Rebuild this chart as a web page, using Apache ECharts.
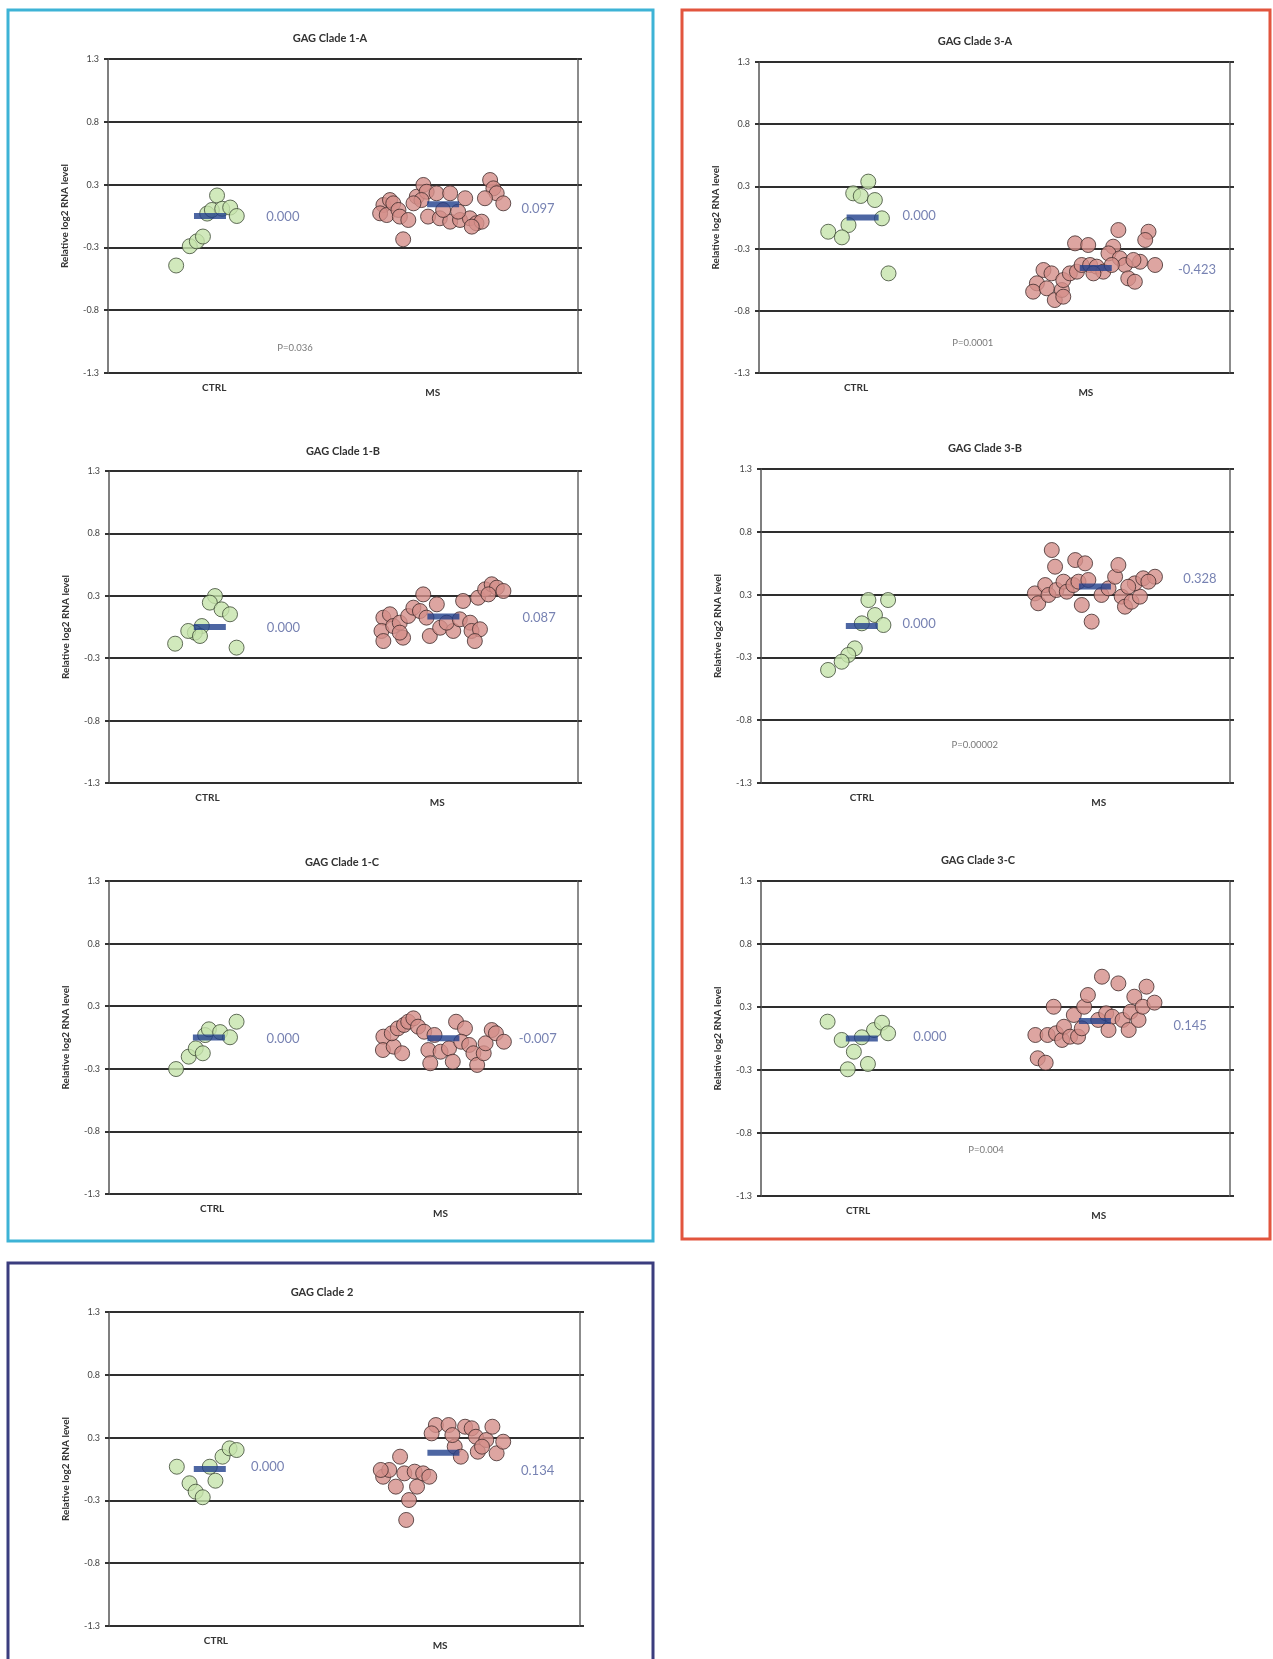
<!DOCTYPE html>
<html>
<head>
<meta charset="utf-8">
<script src="https://cdn.jsdelivr.net/npm/echarts@6/dist/echarts.min.js"></script>
<style>
html,body{margin:0;padding:0;background:#fff;}
#chart{width:1273px;height:1659px;}
</style>
</head>
<body>
<div id="chart"></div>
<script>
// ---------- DATA ----------
const groups = ['CTRL', 'MS'];
const yTicks = [-1.3, -0.78, -0.26, 0.26, 0.78, 1.3];
const yAxisTitle = 'Relative log2 RNA level';

// points: [jitter position (0-100 across plot), relative log2 RNA level]
const ctrl1A = [[14.5,-0.41],[17.4,-0.25],[18.9,-0.21],[20.2,-0.17],[21.1,0.02],[22.1,0.05],[23.2,0.17],[24.3,0.06],[26.0,0.07],[27.4,0.00]];
const ms1A = [[58.6,0.091],[60.0,0.132],[57.9,0.022],[59.3,0.008],[60.7,0.105],[61.8,0.05],[62.1,-0.005],[63.9,-0.033],[62.8,-0.193],[65.7,0.16],[67.1,0.257],[67.8,0.201],[66.7,0.132],[65.0,0.105],[69.9,0.188],[72.8,0.188],[76.0,0.147],[68.1,-0.005],[70.6,-0.019],[72.8,-0.047],[74.9,-0.033],[77.0,-0.019],[78.4,-0.06],[79.5,-0.047],[81.3,0.298],[82.0,0.229],[82.7,0.188],[80.2,0.147],[84.1,0.105],[71.3,0.05],[74.5,0.036],[77.4,-0.088]];
const means1A = [0.000, 0.097];

const ctrl3A = [[23.2,0.30],[20.0,0.202],[21.6,0.18],[24.6,0.146],[26.1,-0.007],[19.0,-0.063],[14.7,-0.119],[17.6,-0.166],[27.5,-0.467]];
const ms3A = [[60.4,-0.439],[62.1,-0.467],[59.0,-0.55],[58.2,-0.62],[61.1,-0.592],[62.8,-0.69],[64.3,-0.606],[64.6,-0.523],[66.0,-0.467],[67.5,-0.453],[68.5,-0.397],[70.3,-0.397],[67.1,-0.216],[69.9,-0.23],[71.7,-0.411],[73.1,-0.453],[76.3,-0.105],[75.2,-0.244],[74.2,-0.3],[76.6,-0.341],[77.7,-0.397],[78.4,-0.509],[79.8,-0.537],[80.9,-0.37],[84.1,-0.397],[82.7,-0.119],[82.0,-0.188],[71.0,-0.467],[74.9,-0.397],[79.5,-0.355],[64.6,-0.662]];
const means3A = [0.000, -0.423];

const ctrl1B = [[22.6,0.258],[21.5,0.203],[24.0,0.147],[25.8,0.106],[19.8,0.008],[18.3,-0.047],[16.9,-0.033],[14.1,-0.139],[27.2,-0.172],[19.4,-0.075]];
const ms1B = [[58.5,0.078],[59.9,0.106],[58.1,-0.033],[60.6,0.008],[62.0,0.036],[58.5,-0.117],[62.7,-0.089],[63.8,0.092],[64.9,0.161],[67.0,0.272],[66.3,0.133],[67.7,0.078],[69.9,0.189],[68.4,-0.075],[70.6,-0.006],[73.4,-0.033],[72.0,0.036],[75.5,0.217],[74.8,0.064],[77.0,0.036],[77.3,-0.033],[79.1,-0.019],[78.0,-0.117],[78.7,0.244],[80.2,0.314],[81.6,0.356],[82.7,0.328],[84.1,0.3],[80.9,0.272],[62.0,-0.047]];
const means1B = [0.000, 0.087];

const ctrl3B = [[22.9,0.215],[27.1,0.215],[24.3,0.091],[26.1,0.008],[21.5,0.022],[20.0,-0.185],[18.6,-0.24],[17.2,-0.296],[14.3,-0.364]];
const ms3B = [[62.0,0.629],[62.7,0.491],[67.0,0.546],[69.1,0.519],[58.4,0.27],[59.1,0.188],[60.6,0.339],[61.3,0.257],[63.0,0.298],[64.5,0.367],[65.2,0.284],[66.6,0.339],[68.4,0.174],[70.5,0.036],[67.7,0.367],[69.8,0.381],[72.6,0.257],[74.1,0.312],[75.5,0.408],[76.2,0.505],[76.9,0.243],[77.6,0.16],[79.0,0.201],[80.8,0.243],[79.7,0.353],[81.5,0.395],[84.0,0.408],[82.6,0.367],[78.3,0.325]];
const means3B = [0.000, 0.328];

const ctrl1C = [[14.3,-0.262],[17.0,-0.159],[18.5,-0.09],[20.0,-0.131],[20.5,0.02],[21.3,0.068],[23.7,0.045],[25.8,0.002],[27.2,0.131]];
const ms1C = [[58.5,0.007],[58.4,-0.104],[60.7,-0.076],[62.5,-0.131],[60.3,0.035],[61.6,0.076],[62.9,0.104],[63.8,0.131],[64.9,0.159],[65.9,0.09],[67.2,0.048],[69.4,0.021],[68.1,-0.104],[68.5,-0.214],[70.7,-0.118],[72.5,-0.09],[73.3,-0.201],[74.0,0.131],[75.9,0.076],[75.1,-0.035],[76.8,-0.062],[77.7,-0.131],[78.5,-0.228],[79.9,-0.131],[80.3,-0.048],[81.6,0.062],[82.5,0.035],[84.2,-0.035]];
const means1C = [0.000, -0.007];

const ctrl3C = [[14.2,0.139],[17.2,-0.012],[19.8,-0.109],[18.5,-0.254],[22.8,-0.21],[24.1,0.07],[25.8,0.13],[27.1,0.043],[21.5,0.01]];
const ms3C = [[58.5,0.029],[59.0,-0.163],[60.7,-0.2],[61.1,0.029],[62.4,0.262],[62.9,0.043],[64.2,-0.012],[64.6,0.097],[65.9,0.015],[66.7,0.194],[67.6,0.015],[68.4,0.084],[68.9,0.262],[69.7,0.359],[72.7,0.51],[76.2,0.455],[71.9,0.153],[73.6,0.208],[74.9,0.18],[74.1,0.07],[77.1,0.153],[78.4,0.07],[78.8,0.221],[79.6,0.345],[80.5,0.153],[81.4,0.262],[82.2,0.428],[83.9,0.296]];
const means3C = [0.000, 0.145];

const ctrl2 = [[14.4,0.019],[17.1,-0.118],[18.4,-0.188],[19.9,-0.234],[21.4,0.019],[22.6,-0.097],[24.1,0.102],[25.6,0.171],[27.1,0.157]];
const ms2 = [[63.1,-0.422],[63.7,-0.257],[60.9,-0.146],[58.2,-0.064],[59.5,-0.008],[61.8,0.102],[62.7,-0.036],[64.9,-0.022],[65.4,-0.146],[66.7,-0.036],[68.0,-0.064],[57.7,-0.008],[69.4,0.364],[68.5,0.295],[72.1,0.364],[73.4,0.185],[74.7,0.102],[75.6,0.35],[77.0,0.337],[78.3,0.143],[77.9,0.267],[80.1,0.24],[81.4,0.35],[82.3,0.13],[83.7,0.226],[79.2,0.185],[72.9,0.281]];
const means2 = [0.000, 0.134];

const titles = ['GAG Clade 1-A','GAG Clade 3-A','GAG Clade 1-B','GAG Clade 3-B','GAG Clade 1-C','GAG Clade 3-C','GAG Clade 2'];
const pValues = ['P=0.036','P=0.0001',null,'P=0.00002',null,'P=0.004',null];

// ---------- LAYOUT (positions / styles) ----------
const layout = [
  {grid:{left:108,top:59,width:470,height:314}, title:[330,40], catX:[22.6,69.1], barX:[21.7,71.3], lab:[[37.2,-0.01],[91.5,0.06]], p:[39.8,-1.093]},
  {grid:{left:759,top:62,width:471,height:311}, title:[975,43], catX:[20.6,69.4], barX:[22.0,71.5], lab:[[34.0,0.015],[93.0,-0.44]], p:[45.4,-1.05]},
  {grid:{left:109,top:471,width:469,height:312}, title:[343,453], catX:[21.0,70.0], barX:[21.5,71.3], lab:[[37.2,-0.01],[91.7,0.08]], p:null},
  {grid:{left:761,top:469,width:469,height:314}, title:[985,450], catX:[21.5,72.0], barX:[21.5,71.2], lab:[[33.7,0.017],[93.6,0.389]], p:[45.6,-0.985]},
  {grid:{left:109,top:881,width:469,height:313}, title:[342,864], catX:[22.0,70.7], barX:[21.3,71.3], lab:[[37.1,-0.013],[91.4,-0.015]], p:null},
  {grid:{left:761,top:881,width:469,height:315}, title:[978,862], catX:[20.7,72.0], barX:[21.5,71.2], lab:[[36.0,0.015],[91.5,0.103]], p:[48.0,-0.92]},
  {grid:{left:109,top:1312,width:471,height:314}, title:[322,1294], catX:[22.7,70.3], barX:[21.4,71.0], lab:[[33.7,0.019],[91.0,-0.014]], p:null}
];
const panelData = [
  [ctrl1A, ms1A, means1A],[ctrl3A, ms3A, means3A],[ctrl1B, ms1B, means1B],[ctrl3B, ms3B, means3B],
  [ctrl1C, ms1C, means1C],[ctrl3C, ms3C, means3C],[ctrl2, ms2, means2]
];

const FONT = 'Lato, "Open Sans", sans-serif';
const GREEN = '#c5e4ab', GREEN_B = '#3d4a36';
const PINK = '#d58f89', PINK_B = '#3f2b2b';
const BAR = '#21408c', VAL = '#55639f';

const grids = [], xAxes = [], yAxes = [], series = [], titleOpts = [];

layout.forEach((L, i) => {
  const [ctrl, ms, means] = panelData[i];
  grids.push(Object.assign({show:false, containLabel:false}, L.grid));
  titleOpts.push({
    text: titles[i], left: L.title[0], top: L.title[1] - 7, textAlign: 'center', padding: 0,
    textStyle: {fontSize: 11, fontWeight: 'bold', color: '#333', fontFamily: FONT}
  });
  xAxes.push({
    gridIndex: i, type: 'value', min: 0, max: 100,
    axisLine: {show: false}, axisTick: {show: false}, splitLine: {show: false},
    axisLabel: {
      customValues: L.catX, margin: 10,
      formatter: (v) => Math.abs(v - L.catX[0]) < 0.01 ? '{c|' + groups[0] + '}' : '{m|' + groups[1] + '}',
      rich: {
        c: {fontSize: 10, fontWeight: 'bold', color: '#333', fontFamily: FONT},
        m: {fontSize: 10, fontWeight: 'bold', color: '#333', fontFamily: FONT, padding: [5, 0, 0, 0]}
      }
    }
  });
  yAxes.push({
    gridIndex: i, type: 'value', min: -1.3, max: 1.3, position: 'left',
    name: yAxisTitle, nameLocation: 'middle', nameGap: 38,
    nameTextStyle: {fontSize: 10, fontWeight: 'bold', color: '#333', fontFamily: FONT},
    axisLine: {show: true, lineStyle: {color: '#555', width: 1.5}},
    axisTick: {show: true, customValues: yTicks, length: 4, lineStyle: {color: '#333', width: 2}},
    axisLabel: {customValues: yTicks, formatter: (v) => v.toFixed(1), fontSize: 9, color: '#444', margin: 9, fontFamily: FONT},
    splitLine: {show: true, lineStyle: {color: '#2e2e2e', width: 2}}
  });
  yAxes.push({
    gridIndex: i, type: 'value', min: -1.3, max: 1.3, position: 'right',
    axisLine: {show: true, lineStyle: {color: '#666', width: 1.5}},
    axisTick: {show: true, customValues: yTicks, length: 4, lineStyle: {color: '#333', width: 2}},
    axisLabel: {show: false}, splitLine: {show: false}
  });
  const yl = 2 * i;
  series.push({
    type: 'scatter', xAxisIndex: i, yAxisIndex: yl, data: ctrl, symbolSize: 15, silent: true, z: 3,
    itemStyle: {color: GREEN, borderColor: GREEN_B, borderWidth: 1}
  });
  series.push({
    type: 'scatter', xAxisIndex: i, yAxisIndex: yl, data: ms, symbolSize: 15, silent: true, z: 3,
    itemStyle: {color: PINK, borderColor: PINK_B, borderWidth: 1}
  });
  series.push({
    type: 'scatter', xAxisIndex: i, yAxisIndex: yl, silent: true, z: 5,
    data: means.map((m, k) => [L.barX[k], m]), symbol: 'rect', symbolSize: [32, 6],
    itemStyle: {color: BAR}
  });
  series.push({
    type: 'scatter', xAxisIndex: i, yAxisIndex: yl, silent: true, z: 6,
    data: means.map((m, k) => ({value: [L.lab[k][0], L.lab[k][1]], txt: m.toFixed(3)})),
    symbolSize: 1, itemStyle: {color: 'rgba(0,0,0,0)'},
    label: {show: true, position: 'inside', formatter: (p) => p.data.txt, fontSize: 13, color: VAL, fontFamily: FONT}
  });
  if (pValues[i]) {
    series.push({
      type: 'scatter', xAxisIndex: i, yAxisIndex: yl, silent: true, z: 6,
      data: [{value: L.p, txt: pValues[i]}], symbolSize: 1, itemStyle: {color: 'rgba(0,0,0,0)'},
      label: {show: true, position: 'inside', formatter: (p) => p.data.txt, fontSize: 9.5, color: '#555', fontFamily: FONT}
    });
  }
});

const boxes = [
  {x: 8, y: 10, w: 645, h: 1231, c: '#3db3d6'},
  {x: 682, y: 10, w: 588, h: 1229, c: '#e2553e'},
  {x: 8, y: 1263, w: 645, h: 410, c: '#3b3d7e'}
];

const chart = echarts.init(document.getElementById('chart'));
chart.setOption({
  animation: false,
  backgroundColor: '#fff',
  title: titleOpts,
  grid: grids, xAxis: xAxes, yAxis: yAxes, series: series,
  graphic: boxes.map(b => ({
    type: 'rect', silent: true, z: 100,
    shape: {x: b.x, y: b.y, width: b.w, height: b.h},
    style: {fill: 'none', stroke: b.c, lineWidth: 3}
  }))
});
</script>
</body>
</html>
